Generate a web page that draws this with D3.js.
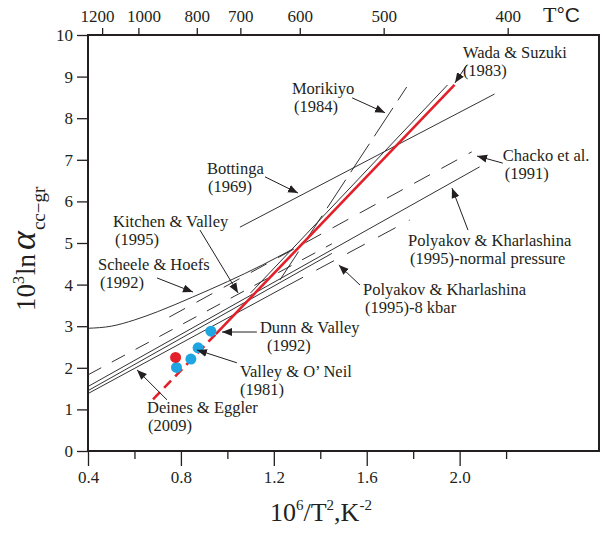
<!DOCTYPE html>
<meta charset="utf-8">
<style>
body { margin: 0; background: #fff; }
text { font-family: "Liberation Serif", "Times New Roman", serif; fill: #231f20; }
</style>
<body>
<script src="https://cdn.jsdelivr.net/npm/d3@7"></script>
<script>

// x = 10^6/T^2 (K^-2), y = 10^3 ln alpha(cc-gr)
var scheeleX = [0.40, 0.50, 0.60, 0.70, 0.85, 1.00, 1.15, 1.28],
    scheeleY = [2.95, 3.00, 3.15, 3.35, 3.70, 4.07, 4.47, 4.85];
var bottingaX = [1.054, 2.15],  bottingaY = [5.38, 8.58];
var morikiyoX = [1.226, 1.772], morikiyoY = [4.11, 8.75];
var wadaX     = [1.10, 1.948],  wadaY     = [3.80, 8.80];
var chackoX   = [0.75, 2.052],  chackoY   = [3.22, 7.19];
var kitchenX  = [0.40, 1.45],   kitchenY  = [1.83, 4.98];
var polyNX    = [0.40, 2.086],  polyNY    = [1.55, 6.83];
var poly8X    = [0.40, 1.25],   poly8Y    = [1.38, 3.95];
var poly8dX   = [1.25, 1.785],  poly8dY   = [3.95, 5.55];
var deinesX   = [0.40, 1.45],   deinesY   = [1.45, 4.75];
var redX      = [0.95, 1.978],  redY      = [2.81, 8.80];
var redDashX  = [0.68, 0.95],   redDashY  = [1.24, 2.81];

var blueDotX = [0.781, 0.843, 0.874, 0.929],
    blueDotY = [2.01, 2.21, 2.48, 2.88];
var redDotX = [0.777],
    redDotY = [2.25];

var xMajor = [0.4, 0.8, 1.2, 1.6, 2.0],
    xMinor = [0.6, 1.0, 1.4, 1.8, 2.2],
    yTicks = [0, 1, 2, 3, 4, 5, 6, 7, 8, 9, 10],
    tempTicks = [1200, 1000, 800, 700, 600, 500, 400];

var width = 602, height = 535;

var svg = d3.select("body").append("svg")
  .attr("width", width)
  .attr("height", height);

var x = d3.scaleLinear().domain([0.4, 2.6]).range([88, 599]);
var y = d3.scaleLinear().domain([0, 10]).range([451, 35]);

function zip(xs, ys) { return xs.map(function(v, i) { return [v, ys[i]]; }); }

var ink = "#333";
var series = [
  {pts: zip(scheeleX, scheeleY),   dash: null,    curve: d3.curveMonotoneX},
  {pts: zip(bottingaX, bottingaY), dash: null},
  {pts: zip(morikiyoX, morikiyoY), dash: "34,9"},
  {pts: zip(wadaX, wadaY),         dash: null},
  {pts: zip(chackoX, chackoY),     dash: "18,13"},
  {pts: zip(kitchenX, kitchenY),   dash: "15,12"},
  {pts: zip(polyNX, polyNY),       dash: null},
  {pts: zip(poly8X, poly8Y),       dash: null},
  {pts: zip(poly8dX, poly8dY),     dash: "20,15"},
  {pts: zip(deinesX, deinesY),     dash: null}
];

var line = d3.line().x(function(d) { return x(d[0]); }).y(function(d) { return y(d[1]); });

var plot = svg.append("g");

series.forEach(function(s) {
  plot.append("path")
    .attr("d", line.curve(s.curve || d3.curveLinear)(s.pts))
    .attr("fill", "none")
    .attr("stroke", ink)
    .attr("stroke-width", 1)
    .attr("stroke-dasharray", s.dash);
});

line.curve(d3.curveLinear);

plot.append("path")
  .attr("d", line(zip(redDashX, redDashY)))
  .attr("fill", "none").attr("stroke", "#e3202a").attr("stroke-width", 2.6)
  .attr("stroke-dasharray", "10,6");
plot.append("path")
  .attr("d", line(zip(redX, redY)))
  .attr("fill", "none").attr("stroke", "#e3202a").attr("stroke-width", 2.6);

plot.selectAll(".blue").data(zip(blueDotX, blueDotY)).enter().append("circle")
  .attr("cx", function(d) { return x(d[0]); })
  .attr("cy", function(d) { return y(d[1]); })
  .attr("r", 5.5).attr("fill", "#1fa6e2");
plot.selectAll(".red").data(zip(redDotX, redDotY)).enter().append("circle")
  .attr("cx", function(d) { return x(d[0]); })
  .attr("cy", function(d) { return y(d[1]); })
  .attr("r", 5.5).attr("fill", "#e3202a");

// annotations: text lines, text anchor (data units), arrow from -> to
var notes = [
  {t: ["Morikiyo", "(1984)"], at: [1.278, 8.58], dx2: 7, from: [1.537, 8.49], to: [1.679, 8.13]},
  {t: ["Wada & Suzuki", "(1983)"], at: [2.014, 9.45], dx2: 5, from: [2.031, 9.28], to: [1.980, 8.85]},
  {t: ["Chacko et al.", "(1991)"], at: [2.186, 6.97], dx2: 7, from: [2.186, 6.92], to: [2.075, 7.09]},
  {t: ["Bottinga", "(1969)"], at: [0.912, 6.66], dx2: 6, from: [1.162, 6.59], to: [1.304, 6.20]},
  {t: ["Kitchen & Valley", "(1995)"], at: [0.508, 5.38], dx2: 7, from: [0.882, 5.31], to: [1.046, 3.80]},
  {t: ["Scheele & Hoefs", "(1992)"], at: [0.443, 4.35], dx2: 7, from: [0.697, 4.16], to: [0.852, 3.82]},
  {t: ["Dunn & Valley", "(1992)"], at: [1.140, 2.84], dx2: 12, from: [1.127, 2.86], to: [0.977, 2.86]},
  {t: ["Valley & O\u2019 Neil", "(1981)"], at: [1.054, 1.78], dx2: 5, from: [1.041, 2.12], to: [0.869, 2.43]},
  {t: ["Deines & Eggler", "(2009)"], at: [0.654, 0.91], dx2: 6, from: [0.740, 1.23], to: [0.611, 1.95]},
  {t: ["Polyakov & Kharlashina", "(1995)-normal pressure"], at: [1.778, 4.93], dx2: 7, from: [2.036, 5.31], to: [1.967, 6.32]},
  {t: ["Polyakov & Kharlashina", "(1995)-8 kbar"], at: [1.584, 3.75], dx2: 7, from: [1.571, 3.99], to: [1.480, 4.47]}
];

svg.append("defs").append("marker")
  .attr("id", "head")
  .attr("viewBox", "0 0 10 10")
  .attr("refX", 10).attr("refY", 5)
  .attr("markerWidth", 10).attr("markerHeight", 10)
  .attr("markerUnits", "userSpaceOnUse")
  .attr("orient", "auto")
  .append("path").attr("d", "M0,1 L10,5 L0,9 Z").attr("fill", "#231f20");

var ann = svg.append("g");
notes.forEach(function(n) {
  var tx = ann.append("text").style("font-size", "16.5px")
    .attr("x", x(n.at[0])).attr("y", y(n.at[1]));
  tx.append("tspan").text(n.t[0]);
  tx.append("tspan").text(n.t[1])
    .attr("x", x(n.at[0]) + n.dx2 - 5)
    .attr("y", y(n.at[1]) + 18);
  ann.append("line")
    .attr("x1", x(n.from[0])).attr("y1", y(n.from[1]))
    .attr("x2", x(n.to[0])).attr("y2", y(n.to[1]))
    .attr("stroke", "#231f20").attr("stroke-width", 1)
    .attr("marker-end", "url(#head)");
});

// axes
var fmt1 = d3.format(".1f");

var gy = svg.append("g").attr("transform", "translate(88,0)")
  .call(d3.axisLeft(y).tickValues(yTicks).tickSize(11).tickPadding(4).tickFormat(d3.format("d")));

var gx = svg.append("g").attr("transform", "translate(0,451)")
  .call(d3.axisBottom(x).tickValues(xMajor).tickSize(15).tickPadding(5).tickFormat(fmt1));

var gxm = svg.append("g").attr("transform", "translate(0,451)")
  .call(d3.axisBottom(x).tickValues(xMinor).tickSize(8).tickFormat(""));

var toX = function(t) { return 1e6 / Math.pow(t + 273.15, 2); };
var labelShift = {1200: -5, 1000: 5};
var gt = svg.append("g").attr("transform", "translate(0,35)")
  .call(d3.axisTop(x).tickValues(tempTicks.map(toX)).tickSize(7).tickPadding(6)
    .tickFormat(function(d, i) { return tempTicks[i]; }));
gt.selectAll("text").attr("dx", function(d, i) { return labelShift[tempTicks[i]] || 0; });

[gy, gx, gxm, gt].forEach(function(g) {
  g.select(".domain").remove();
  g.selectAll("line").attr("stroke", "#231f20").attr("stroke-width", 1.3);
  g.selectAll("text").style("font-size", "17px").style("font-family", '"Liberation Serif", serif').attr("fill", "#231f20");
});

svg.append("rect")
  .attr("x", 88).attr("y", 35).attr("width", 511).attr("height", 416)
  .attr("fill", "none").attr("stroke", "#231f20").attr("stroke-width", 2);

// T°C
var tc = svg.append("text").attr("x", 543).attr("y", 22).style("font-size", "22px");
tc.append("tspan").text("T");
tc.append("tspan").text("\u00b0C").style("font-family", '"Liberation Sans", sans-serif').style("font-size", "21px");

// x title
var xt = svg.append("text").attr("x", 270).attr("y", 521).style("font-size", "26px");
xt.append("tspan").text("10");
xt.append("tspan").text("6").style("font-size", "15px").attr("dy", -11);
xt.append("tspan").text("/T").attr("dy", 11);
xt.append("tspan").text("2").style("font-size", "15px").attr("dy", -11);
xt.append("tspan").text(",K").attr("dy", 11);
xt.append("tspan").text("-2").style("font-size", "15px").attr("dy", -11);

// y title
var yt = svg.append("text").attr("transform", "translate(35,311) rotate(-90)").style("font-size", "27px");
yt.append("tspan").text("10");
yt.append("tspan").text("3").style("font-size", "16px").attr("dy", -11);
yt.append("tspan").text("ln").attr("dy", 11).attr("dx", 1);
yt.append("tspan").text("\u03b1").style("font-style", "italic").style("font-size", "36px").attr("dx", 4);
yt.append("tspan").text("cc\u2212gr").style("font-size", "19px").attr("dy", 10).attr("dx", 1);

</script>
